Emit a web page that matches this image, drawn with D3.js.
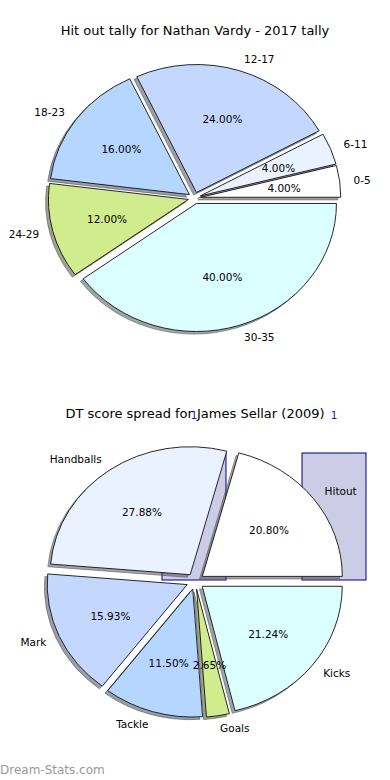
<!DOCTYPE html>
<html>
<head>
<meta charset="utf-8">
<script src="https://cdn.jsdelivr.net/npm/d3@7"></script>
<style>
    body { margin: 0; background: #fff; }
    svg { display: block; font-family: "DejaVu Sans", sans-serif; }
</style>
</head>
<body>
<div id="chart"></div>
<script>
// two matplotlib style pies, with a stray bar plot behind the second one

const topTitle = "Hit out tally for Nathan Vardy - 2017 tally";
const topLabels = ["0-5", "6-11", "12-17", "18-23", "24-29", "30-35"];
const topValues = [4.00, 4.00, 24.00, 16.00, 12.00, 40.00];

const bottomTitle = "DT score spread for James Sellar (2009)";
const bottomLabels = ["Hitout", "Handballs", "Mark", "Tackle", "Goals", "Kicks"];
const bottomValues = [20.80, 27.88, 15.93, 11.50, 2.65, 21.24];

// the bars that leak through behind the second pie
const barCategories = ["a", "b"];
const barValues = [1, 1];
const barTickLabels = ["1", "1"];

const sliceColors =
[
    "#ffffff",
    "#ebf2ff",
    "#c4d8ff",
    "#b5d6ff",
    "#d1ec8c",
    "#dcffff"
];

const W = 390, H = 780;

let svg = d3.select("#chart").
append("svg").
attr("width", W).
attr("height", H);

function shadowColor(c) {
    let rgb = d3.rgb(c);
    return d3.rgb(rgb.r * 0.3, rgb.g * 0.3, rgb.b * 0.3).toString();
}

function drawPie(g, labels, values, opts) {
    let pie = d3.pie().sort(null).value(d => d)
        .startAngle(0).endAngle(2 * Math.PI);
    let arcs = pie(values);
    let unit = d3.arc().innerRadius(0).outerRadius(1);

    // matplotlib angles: counter clockwise from 3 o'clock
    let wedges = arcs.map((a, i) => {
        let t1 = a.startAngle, t2 = a.endAngle;
        let m = (t1 + t2) / 2;
        let ox = opts.cx + opts.explode * opts.rx * Math.cos(m);
        let oy = opts.cy - opts.explode * opts.ry * Math.sin(m);
        return {
            i: i,
            label: labels[i],
            value: values[i],
            m: m,
            ox: ox,
            oy: oy,
            path: unit({ startAngle: Math.PI / 2 - t1, endAngle: Math.PI / 2 - t2 })
        };
    });

    // shadows go under every wedge
    g.selectAll(".shadow").
    data(wedges).
    enter().
    append("path").
    attr("class", "shadow").
    attr("d", d => d.path).
    attr("transform", d => "translate(" + (d.ox - 2.8) + "," + (d.oy + 2.6) + ") scale(" + opts.rx + "," + opts.ry + ")").
    attr("vector-effect", "non-scaling-stroke").
    style("fill", d => shadowColor(sliceColors[d.i])).
    style("fill-opacity", 0.5).
    style("stroke", d => shadowColor(sliceColors[d.i])).
    style("stroke-opacity", 0.5).
    style("stroke-width", 1);

    g.selectAll(".wedge").
    data(wedges).
    enter().
    append("path").
    attr("class", "wedge").
    attr("d", d => d.path).
    attr("transform", d => "translate(" + d.ox + "," + d.oy + ") scale(" + opts.rx + "," + opts.ry + ")").
    attr("vector-effect", "non-scaling-stroke").
    style("fill", d => sliceColors[d.i]).
    style("stroke", "#111").
    style("stroke-width", 0.9);

    g.selectAll(".lbl").
    data(wedges).
    enter().
    append("text").
    attr("class", "lbl").
    attr("x", d => d.ox + 1.1 * opts.rx * Math.cos(d.m)).
    attr("y", d => d.oy - 1.1 * opts.ry * Math.sin(d.m)).
    attr("text-anchor", d => Math.cos(d.m) > 0 ? "start" : "end").
    attr("dominant-baseline", "central").
    style("font-size", "10.5px").
    style("fill", "#000").
    text(d => d.label);

    g.selectAll(".pct").
    data(wedges).
    enter().
    append("text").
    attr("class", "pct").
    attr("x", d => d.ox + 0.6 * opts.rx * Math.cos(d.m)).
    attr("y", d => d.oy - 0.6 * opts.ry * Math.sin(d.m)).
    attr("text-anchor", "middle").
    attr("dominant-baseline", "central").
    style("font-size", "10.5px").
    style("fill", "#000").
    text(d => d.value.toFixed(2) + "%");
}

// top pie
let g1 = svg.append("g");
g1.append("text").
attr("x", 195).
attr("y", 30).
attr("text-anchor", "middle").
attr("dominant-baseline", "central").
style("font-size", "13px").
text(topTitle);
drawPie(g1, topLabels, topValues, { cx: 194.5, cy: 198, rx: 140, ry: 128, explode: 0.045 });

// bottom: bars first, pie on top of them
let g2 = svg.append("g");

let xBar = d3.scaleBand().
domain(barCategories).
range([162, 366]).
paddingInner(0.543).
paddingOuter(0);

let yBar = d3.scaleLinear().
domain([0, 1]).
range([580, 453]);

g2.selectAll(".bar").
data(barValues).
enter().
append("rect").
attr("class", "bar").
attr("x", (d, i) => xBar(barCategories[i])).
attr("y", d => yBar(d)).
attr("width", xBar.bandwidth()).
attr("height", d => yBar(0) - yBar(d)).
style("fill", "#ccccE6").
style("stroke", "#000080").
style("stroke-width", 1);

g2.append("text").
attr("x", 195).
attr("y", 413).
attr("text-anchor", "middle").
attr("dominant-baseline", "central").
style("font-size", "13px").
text(bottomTitle);

g2.selectAll(".barlbl").
data(barValues).
enter().
append("text").
attr("class", "barlbl").
attr("x", (d, i) => xBar(barCategories[i]) + xBar.bandwidth() / 2).
attr("y", d => yBar(d) - 38).
attr("text-anchor", "middle").
attr("dominant-baseline", "central").
style("font-size", "10.5px").
style("fill", "#1a1a99").
text((d, i) => barTickLabels[i]);

drawPie(g2, bottomLabels, bottomValues, { cx: 195.3, cy: 581.3, rx: 140, ry: 128, explode: 0.063 });

svg.append("text").
attr("x", 0).
attr("y", 770).
attr("dominant-baseline", "central").
style("font-size", "12px").
style("fill", "#999").
text("Dream-Stats.com");
</script>
</body>
</html>
